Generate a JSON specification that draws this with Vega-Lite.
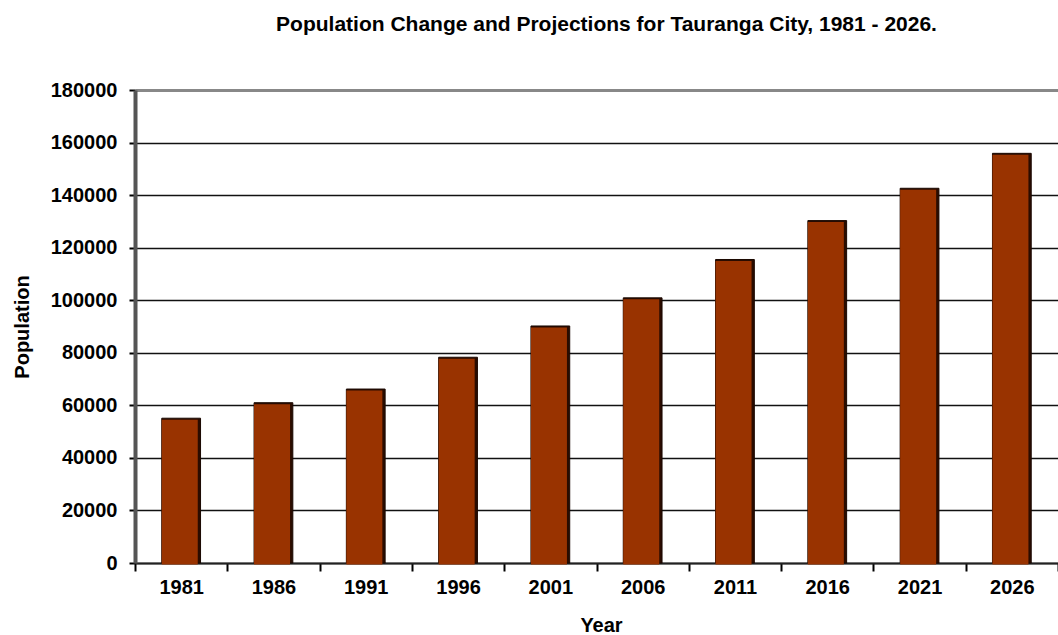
{
  "$schema": "https://vega.github.io/schema/vega-lite/v6.json",
  "autosize": "none",
  "width": 923,
  "height": 473,
  "padding": {"left": 135, "top": 90, "right": 0, "bottom": 72},
  "background": "white",
  "config": {
    "view": {"stroke": null},
    "font": "Liberation Sans"
  },
  "title": {
    "text": "Population Change and Projections for Tauranga City, 1981 - 2026.",
    "font": "Liberation Sans",
    "fontSize": 21,
    "fontWeight": "bold",
    "color": "black",
    "offset": 45,
    "dx": 10
  },
  "data": {
    "values": [
      {"Year": "1981", "Population": 55100},
      {"Year": "1986", "Population": 61000},
      {"Year": "1991", "Population": 66200},
      {"Year": "1996", "Population": 78300},
      {"Year": "2001", "Population": 90200},
      {"Year": "2006", "Population": 100900},
      {"Year": "2011", "Population": 115500},
      {"Year": "2016", "Population": 130300},
      {"Year": "2021", "Population": 142600},
      {"Year": "2026", "Population": 155900}
    ]
  },
  "encoding": {
    "x": {
      "field": "Year",
      "type": "nominal",
      "scale": {"paddingInner": 0, "paddingOuter": 0},
      "axis": {
        "title": "Year",
        "titleFont": "Liberation Sans",
        "titleFontSize": 20,
        "titleFontWeight": "bold",
        "titleColor": "black",
        "titlePadding": 18,
        "titleX": 466,
        "labelAngle": 0,
        "labelFont": "Liberation Sans",
        "labelFontSize": 20,
        "labelFontWeight": "bold",
        "labelColor": "black",
        "labelPadding": 6,
        "tickBand": "extent",
        "tickColor": "black",
        "tickWidth": 2,
        "tickSize": 8,
        "domainColor": "#222222",
        "domainWidth": 2,
        "grid": false
      }
    },
    "y": {
      "field": "Population",
      "type": "quantitative",
      "scale": {"domain": [0, 180000], "nice": false},
      "axis": {
        "title": "Population",
        "titleFont": "Liberation Sans",
        "titleFontSize": 20,
        "titleFontWeight": "bold",
        "titleColor": "black",
        "titlePadding": 18,
        "values": [0, 20000, 40000, 60000, 80000, 100000, 120000, 140000, 160000, 180000],
        "format": "d",
        "labelFont": "Liberation Sans",
        "labelFontSize": 20,
        "labelFontWeight": "bold",
        "labelColor": "black",
        "labelPadding": 12,
        "tickColor": "black",
        "tickWidth": 2,
        "tickSize": 6,
        "domainColor": "#555555",
        "domainWidth": 4,
        "grid": true,
        "gridColor": {"condition": {"test": "datum.value === 180000", "value": "#888888"}, "value": "#111111"},
        "gridWidth": {"condition": {"test": "datum.value === 180000", "value": 3}, "value": 1.5},
        "gridOpacity": 1
      }
    }
  },
  "layer": [
    {
      "mark": {"type": "bar", "width": {"band": 0.42}, "color": "#2a0c00", "stroke": "#1a0800", "strokeWidth": 1}
    },
    {
      "mark": {"type": "bar", "width": {"band": 0.39}, "xOffset": -1.4, "color": "#993300", "yOffset": 1.5}
    }
  ]
}
